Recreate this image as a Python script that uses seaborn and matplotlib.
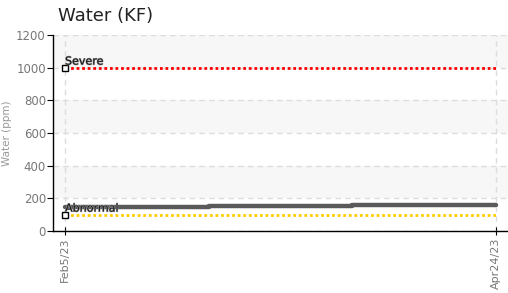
import matplotlib
matplotlib.use("Agg")
import matplotlib.pyplot as plt
import matplotlib.patheffects as pe
import seaborn as sns
import pandas as pd

dates = pd.to_datetime(["2023-02-05", "2023-03-03", "2023-03-29", "2023-04-24"])
water = [148, 154, 160, 160]
severe = 1000
abnormal = 100
tick_dates = pd.to_datetime(["2023-02-05", "2023-04-24"])
tick_labels = ["Feb5/23", "Apr24/23"]

sns.set_style("white")
plt.rcParams["font.family"] = ["DejaVu Sans"]

fig = plt.figure(figsize=(5.08, 2.93), dpi=100)
ax = fig.add_axes([0.104, 0.212, 0.896, 0.669])

df = pd.DataFrame({"date": dates, "water": water})
sns.lineplot(data=df, x="date", y="water", ax=ax, color="#5a5a5a", lw=3.2,
             drawstyle="steps-post", zorder=4)

# threshold lines run from the first to the last sample
ax.hlines(severe, dates[0], dates[-1], color="#ff0000", lw=2, ls=(0, (1, 1)), zorder=3)
ax.hlines(abnormal, dates[0], dates[-1], color="#ffcc00", lw=2, ls=(0, (1, 1)), zorder=3)
ax.plot([dates[0], dates[0]], [severe, abnormal], ls="none", marker="s", ms=4,
        mfc="white", mec="black", mew=1, zorder=6)
outline = [pe.withStroke(linewidth=0.8, foreground="#999999")]
ax.text(dates[0], severe + 18, "Severe", fontsize=8, color="#111111", zorder=6,
        path_effects=outline)
ax.text(dates[0], abnormal + 18, "Abnormal", fontsize=8, color="#111111", zorder=6,
        path_effects=outline)

for lo in (200, 600, 1000):
    ax.axhspan(lo, lo + 200, color="#f7f7f7", lw=0, zorder=0)

ax.set_ylim(0, 1200)
ax.set_xlim(dates[0] - pd.Timedelta(days=2.2), tick_dates[1] + pd.Timedelta(days=2.2))
ax.set_yticks(range(0, 1201, 200))
ax.set_xticks(tick_dates)
ax.set_xticklabels(tick_labels, rotation=90)
ax.grid(True, color="#dddddd", ls=(0, (4, 3)), lw=1)
ax.set_axisbelow(True)

ax.set_xlabel("")
ax.set_ylabel("Water (ppm)", color="#999999", fontsize=7.5, labelpad=3)
ax.tick_params(axis="y", colors="#777777", labelsize=8.5, length=4, direction="out",
               left=True, pad=1)
ax.tick_params(axis="x", colors="#777777", labelsize=8, length=6, direction="inout",
               bottom=True, pad=2)
ax.tick_params(axis="both", color="black")

sns.despine(ax=ax)
for s in ("left", "bottom"):
    ax.spines[s].set_color("black")
    ax.spines[s].set_linewidth(1)

fig.text(0.114, 0.93, "Water (KF)", fontsize=13, color="#222222")

fig.savefig("out.png", dpi=100)
